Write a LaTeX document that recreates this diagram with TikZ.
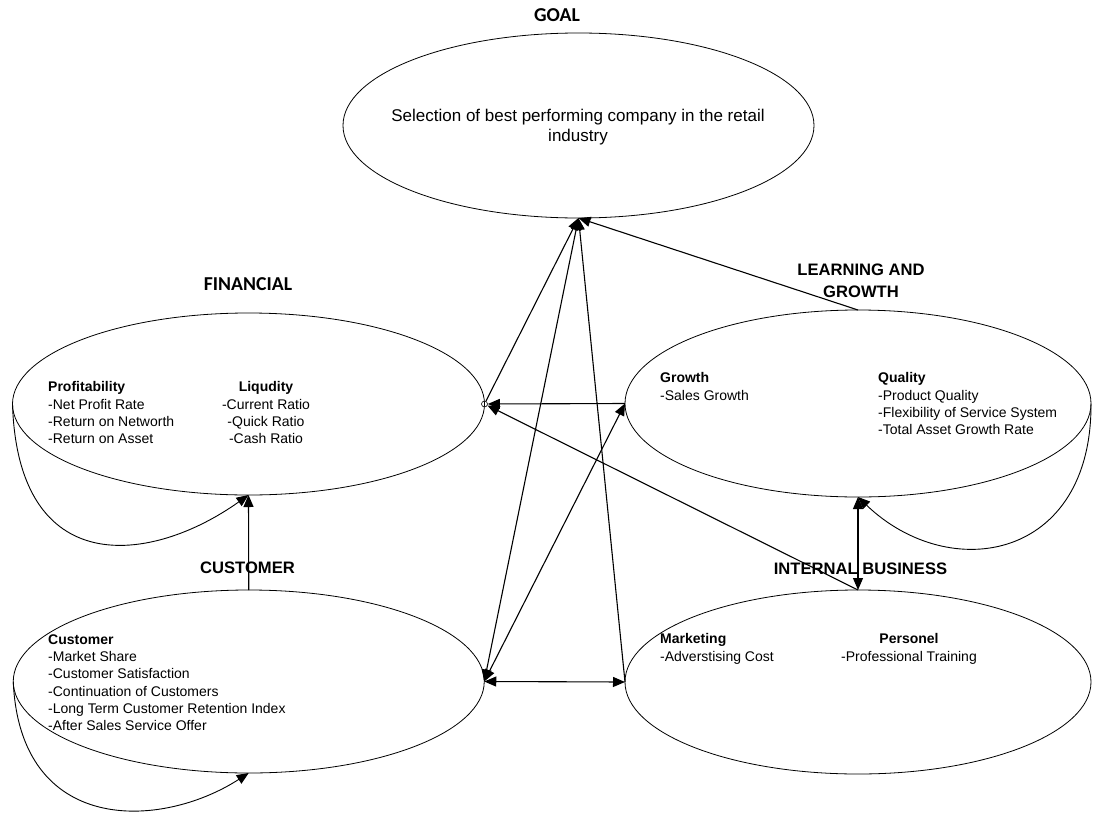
\documentclass[tikz,border=0pt]{standalone}
\usepackage{fontspec}
\setmainfont{Liberation Sans}
\newfontfamily\calfont{Carlito}
\usetikzlibrary{shapes.geometric,arrows.meta}

\begin{document}
\begin{tikzpicture}[x=1pt,y=-1pt,
  bubble/.style={draw, ellipse, inner sep=0pt, outer sep=0pt, line width=0.8pt},
  item/.style={anchor=north west, align=left, inner sep=0pt, font=\fontsize{14}{17.3}\selectfont},
  citem/.style={anchor=north, align=center, inner sep=0pt, font=\fontsize{14}{17.3}\selectfont},
  head/.style={align=center, inner sep=0pt, font=\bfseries\fontsize{16.6}{22}\selectfont},
  chead/.style={inner sep=0pt, font=\calfont\bfseries\fontsize{19.7}{22}\selectfont},
  tip/.tip={Triangle[length=12pt,width=10pt]},
  link/.style={line width=1.1pt, -tip},
  twoway/.style={line width=1.1pt, tip-tip},
  loop/.style={line width=0.9pt, -tip}]
\useasboundingbox (0,0) rectangle (1093,814);

% perspective bubbles
\node[bubble, minimum width=471pt, minimum height=185pt] (goal) at (578.5,125.5) {};
\node[bubble, minimum width=472pt, minimum height=182pt] (fin)  at (248.5,404) {};
\node[bubble, minimum width=471pt, minimum height=183pt] (cust) at (248.75,681.5) {};
\node[bubble, minimum width=466pt, minimum height=187pt] (grow) at (858,403.5) {};
\node[bubble, minimum width=466pt, minimum height=184pt] (intb) at (858,682) {};
\node[circle, draw, inner sep=0pt, minimum size=6pt, line width=0.6pt] (dot) at (fin.east) {};

% headings
\node[chead] (goalhd) at (557,15) {GOAL};
\node[chead] (finhd) at (248,284) {FINANCIAL};
\node[head] (growhd) at (861,281) {LEARNING AND\\GROWTH};
\node[head] (custhd) at (247.5,568) {CUSTOMER};
\node[head] (intbhd) at (860.5,569) {INTERNAL BUSINESS};

% bubble contents
\node[align=center, inner sep=0pt, font=\fontsize{17}{20}\selectfont] (goaltx) at (578,127)
  {Selection of best performing company in the retail\\industry};
\node[item] (profit) at (48,381.4)
  {\textbf{Profitability}\\-Net Profit Rate\\-Return on Networth\\-Return on Asset};
\node[citem] (liquid) at (266,381.4)
  {\textbf{Liqudity}\\-Current Ratio\\-Quick Ratio\\-Cash Ratio};
\node[item] (growth) at (660,372.4)
  {\textbf{Growth}\\-Sales Growth};
\node[item] (quality) at (878,372.4)
  {\textbf{Quality}\\-Product Quality\\-Flexibility of Service System\\-Total Asset Growth Rate};
\node[item] (custtx) at (48,634.4)
  {\textbf{Customer}\\-Market Share\\-Customer Satisfaction\\-Continuation of Customers\\-Long Term Customer Retention Index\\-After Sales Service Offer};
\node[item] (market) at (660,633.4)
  {\textbf{Marketing}\\-Adverstising Cost};
\node[citem] (person) at (909,633.4)
  {\textbf{Personel}\\-Professional Training};

% links towards the goal
\draw[link] (dot) -- (goal.south);
\draw[twoway] (cust.east) -- (goal.south);
\draw[link] (intb.west) -- (goal.south);
\draw[link] (grow.north) -- (goal.south);

% links between perspectives
\draw[link] (grow.west) -- (dot);
\draw[link] (intb.north) -- (dot);
\draw[twoway] (cust.east) -- (grow.west);
\draw[twoway] (cust.east) -- (intb.west);
\draw[twoway] (grow.south) -- (intb.north);
\draw[link] (cust.north) -- (fin.south);

% self loops
\draw[loop] (fin.west) .. controls (18,580) and (150,565) .. (fin.south);
\draw[loop] (cust.west) .. controls (20,835) and (160,830) .. (cust.south);
\draw[loop] (grow.east) .. controls (1092,560) and (950,585) .. (grow.south);
\end{tikzpicture}
\end{document}
